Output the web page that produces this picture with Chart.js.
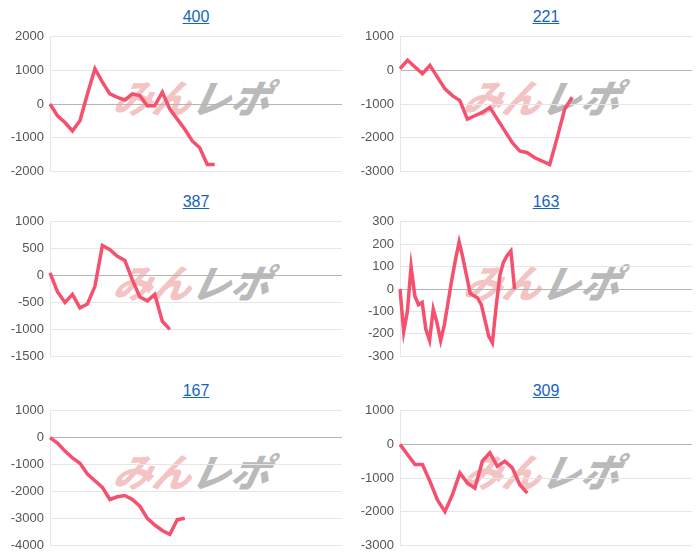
<!DOCTYPE html>
<html>
<head>
<meta charset="utf-8">
<script src="https://cdn.jsdelivr.net/npm/chart.js@4/dist/chart.umd.min.js"></script>
<style>
  body { margin:0; background:#fff; font-family:"Liberation Sans", Arial, sans-serif; }
  .cell { position:absolute; width:350px; height:185px; }
  .cell a { position:absolute; top:8px; left:50px; right:8px; text-align:center; color:#1565c0; font-size:16px; text-decoration:underline; }
  .cell canvas { position:absolute; top:23px; left:0; z-index:2; }
  .wm { position:absolute; top:68px; left:115px; z-index:1; font-weight:900; font-style:italic; font-size:39px; font-family:"Noto Sans CJK JP", sans-serif; white-space:nowrap; transform:skewX(-12deg); }
  .wm .a { color:rgba(230,110,110,0.42); }
  .wm .b { color:rgba(140,140,140,0.6); }
</style>
</head>
<body>
<script>
// chart data (profit curves)
const titles = ["400", "221", "387", "163", "167", "309"];
const values400 = [0,-350,-550,-800,-500,300,1050,650,300,200,120,300,250,-50,-50,350,-150,-450,-750,-1100,-1300,-1800,-1800];
const values221 = [50,300,100,-100,150,-200,-550,-750,-900,-1450,-1350,-1250,-1100,-1450,-1800,-2150,-2400,-2450,-2600,-2700,-2800,-2000,-1150,-800];
const values387 = [50,-300,-500,-350,-600,-530,-200,560,480,360,280,-80,-400,-470,-350,-850,-1000];
const values163 = [0,-190,-100,100,-30,-70,-60,-180,-230,-90,-150,-230,-160,-60,40,130,210,140,60,-20,-30,-40,-70,-140,-210,-240,-80,60,120,150,170,0];
const values167 = [0,-200,-500,-750,-950,-1350,-1600,-1850,-2300,-2200,-2150,-2300,-2550,-3000,-3250,-3450,-3600,-3050,-3000];
const values309 = [0,-300,-600,-600,-1100,-1650,-2000,-1500,-850,-1150,-1300,-500,-250,-650,-500,-700,-1200,-1450];
const seriesList = [values400, values221, values387, values163, values167, values309];
const axisMin = [-2000, -3000, -1500, -300, -4000, -3000];
const axisMax = [2000, 1000, 1000, 300, 1000, 1000];
const axisStep = [1000, 1000, 500, 100, 1000, 1000];
const labelCount = [40, 40, 40, 80, 40, 40];

const rowTops = [0, 185, 374];

titles.forEach((t, i) => {
  const cell = document.createElement("div");
  cell.className = "cell";
  cell.style.left = (i % 2) * 350 + "px";
  cell.style.top = rowTops[Math.floor(i / 2)] + "px";
  cell.innerHTML = `<a href="#">${t}</a><div class="wm"><span class="a">みん</span><span class="b">レポ</span></div><canvas width="350" height="162"></canvas>`;
  document.body.appendChild(cell);

  const labels = Array.from({length: labelCount[i]}, (_, k) => k + 1);
  new Chart(cell.querySelector("canvas"), {
    type: "line",
    data: {
      labels,
      datasets: [{ data: seriesList[i], borderColor: "#f5506e", borderWidth: 3.5, pointRadius: 0, tension: 0, fill: false }]
    },
    options: {
      responsive: false,
      animation: false,
      layout: { padding: { top: 2, bottom: 0, right: 8 } },
      plugins: { legend: { display: false }, tooltip: { enabled: false } },
      scales: {
        x: { display: false },
        y: {
          min: axisMin[i], max: axisMax[i],
          ticks: { stepSize: axisStep[i], color: "#555", font: { size: 13, family: "Liberation Sans" }, padding: 6, callback: v => String(v) },
          grid: { color: ctx => ctx.tick && ctx.tick.value === 0 ? "#b5b5b5" : "#e6e6e6", drawTicks: false },
          border: { color: "#e6e6e6" },
          afterFit: s => { s.width = 50; }
        }
      }
    }
  });
});
</script>
</body>
</html>
